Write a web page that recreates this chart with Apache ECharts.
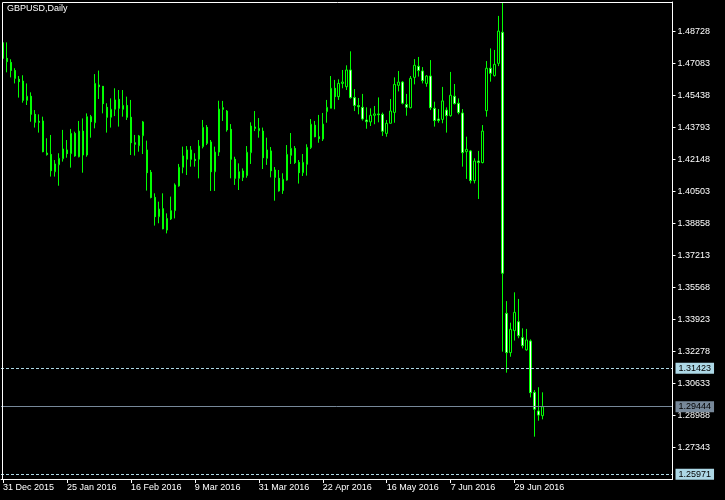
<!DOCTYPE html>
<html>
<head>
<meta charset="utf-8">
<script src="https://cdn.jsdelivr.net/npm/echarts@6/dist/echarts.min.js"></script>
<style>
html,body{margin:0;padding:0;background:#000;}
#chart{width:725px;height:500px;}
</style>
</head>
<body>
<div id="chart"></div>
<script>
// ---- data ----
const dates = [
'31 Dec 2015',
'4 Jan 2016','5 Jan 2016','6 Jan 2016','7 Jan 2016','8 Jan 2016','11 Jan 2016','12 Jan 2016','13 Jan 2016','14 Jan 2016','15 Jan 2016',
'18 Jan 2016','19 Jan 2016','20 Jan 2016','21 Jan 2016','22 Jan 2016','25 Jan 2016','26 Jan 2016','27 Jan 2016','28 Jan 2016','29 Jan 2016',
'1 Feb 2016','2 Feb 2016','3 Feb 2016','4 Feb 2016','5 Feb 2016','8 Feb 2016','9 Feb 2016','10 Feb 2016','11 Feb 2016','12 Feb 2016',
'15 Feb 2016','16 Feb 2016','17 Feb 2016','18 Feb 2016','19 Feb 2016','22 Feb 2016','23 Feb 2016','24 Feb 2016','25 Feb 2016','26 Feb 2016','29 Feb 2016',
'1 Mar 2016','2 Mar 2016','3 Mar 2016','4 Mar 2016','7 Mar 2016','8 Mar 2016','9 Mar 2016','10 Mar 2016','11 Mar 2016',
'14 Mar 2016','15 Mar 2016','16 Mar 2016','17 Mar 2016','18 Mar 2016','21 Mar 2016','22 Mar 2016','23 Mar 2016','24 Mar 2016','25 Mar 2016',
'28 Mar 2016','29 Mar 2016','30 Mar 2016','31 Mar 2016',
'1 Apr 2016','4 Apr 2016','5 Apr 2016','6 Apr 2016','7 Apr 2016','8 Apr 2016','11 Apr 2016','12 Apr 2016','13 Apr 2016','14 Apr 2016','15 Apr 2016',
'18 Apr 2016','19 Apr 2016','20 Apr 2016','21 Apr 2016','22 Apr 2016','25 Apr 2016','26 Apr 2016','27 Apr 2016','28 Apr 2016','29 Apr 2016',
'2 May 2016','3 May 2016','4 May 2016','5 May 2016','6 May 2016','9 May 2016','10 May 2016','11 May 2016','12 May 2016','13 May 2016',
'16 May 2016','17 May 2016','18 May 2016','19 May 2016','20 May 2016','23 May 2016','24 May 2016','25 May 2016','26 May 2016','27 May 2016',
'30 May 2016','31 May 2016',
'1 Jun 2016','2 Jun 2016','3 Jun 2016','6 Jun 2016','7 Jun 2016','8 Jun 2016','9 Jun 2016','10 Jun 2016','13 Jun 2016','14 Jun 2016',
'15 Jun 2016','16 Jun 2016','17 Jun 2016','20 Jun 2016','21 Jun 2016','22 Jun 2016','23 Jun 2016','24 Jun 2016','27 Jun 2016','28 Jun 2016',
'29 Jun 2016','30 Jun 2016',
'1 Jul 2016','4 Jul 2016','5 Jul 2016','6 Jul 2016','7 Jul 2016','8 Jul 2016'
];

const open = [
1.4815,1.4735,1.4714,1.4672,1.4627,1.4618,1.4519,1.4540,1.4447,1.4411,
1.4413,1.4248,1.4241,1.4152,1.4188,1.4219,1.4264,1.4245,1.4349,1.4229,
1.4361,1.4238,1.4435,1.4404,1.4598,1.4591,1.4483,1.4432,1.4473,1.4524,
1.4473,1.4493,1.4432,1.4301,1.4286,1.4337,1.4264,1.4149,1.4020,1.3921,
1.3962,1.3852,1.3909,1.3952,1.4079,1.4175,1.4216,1.4264,1.4216,1.4216,
1.4281,1.4380,1.4305,1.4152,1.4253,1.4481,1.4464,1.4370,1.4216,1.4118,
1.4156,1.4132,1.4250,1.4382,1.4363,1.4361,1.4221,1.4259,1.4161,1.4118,
1.4055,1.4109,1.4236,1.4272,1.4200,1.4147,1.4190,1.4276,1.4391,1.4332,
1.4320,1.4461,1.4478,1.4581,1.4538,1.4606,1.4589,1.4675,1.4533,1.4492,
1.4483,1.4418,1.4408,1.4442,1.4449,1.4447,1.4349,1.4401,1.4457,1.4596,
1.4613,1.4498,1.4481,1.4637,1.4694,1.4670,1.4606,1.4644,1.4478,1.4423,
1.4421,1.4469,1.4440,1.4540,1.4504,1.4454,1.4255,1.4259,1.4106,1.4207,
1.4199,1.4466,1.4684,1.4646,1.4709,1.4869,1.3424,1.3222,1.3335,1.3381,
1.3299,1.3236,1.3282,1.3018,1.2922,1.2898
];
const close = [
1.4735,1.4718,1.4673,1.4632,1.4615,1.4519,1.4540,1.4447,1.4406,1.4406,
1.4255,1.4240,1.4157,1.4192,1.4221,1.4269,1.4245,1.4349,1.4233,1.4361,
1.4238,1.4435,1.4409,1.4606,1.4589,1.4502,1.4432,1.4473,1.4521,1.4478,
1.4493,1.4432,1.4301,1.4293,1.4336,1.4408,1.4147,1.4020,1.3921,1.3960,
1.3858,1.3912,1.3952,1.4084,1.4175,1.4233,1.4264,1.4216,1.4209,1.4284,
1.4380,1.4298,1.4152,1.4253,1.4474,1.4473,1.4367,1.4216,1.4118,1.4152,
1.4123,1.4252,1.4387,1.4375,1.4375,1.4224,1.4264,1.4157,1.4123,1.4053,
1.4113,1.4241,1.4272,1.4199,1.4147,1.4200,1.4277,1.4396,1.4332,1.4322,
1.4397,1.4483,1.4581,1.4538,1.4606,1.4613,1.4675,1.4533,1.4493,1.4486,
1.4423,1.4409,1.4442,1.4449,1.4445,1.4360,1.4401,1.4464,1.4601,1.4613,
1.4504,1.4483,1.4632,1.4699,1.4672,1.4620,1.4644,1.4481,1.4415,1.4415,
1.4516,1.4440,1.4545,1.4502,1.4456,1.4250,1.4267,1.4106,1.4207,1.4199,
1.4361,1.4684,1.4658,1.4704,1.4875,1.3630,1.3222,1.3342,1.3429,1.3309,
1.3258,1.3287,1.3016,1.2931,1.2901,1.2944
];
const low = [
1.4733,1.4663,1.4637,1.4606,1.4533,1.4507,1.4495,1.4409,1.4379,1.4353,
1.4252,1.4235,1.4127,1.4127,1.4080,1.4204,1.4224,1.4173,1.4229,1.4226,
1.4147,1.4229,1.4327,1.4375,1.4526,1.4452,1.4353,1.4379,1.4438,1.4384,
1.4435,1.4418,1.4238,1.4235,1.4255,1.4243,1.4055,1.4015,1.3875,1.3887,
1.3856,1.3835,1.3904,1.3912,1.4075,1.4144,1.4135,1.4178,1.4178,1.4118,
1.4272,1.4289,1.4053,1.4053,1.4233,1.4413,1.4358,1.4118,1.4084,1.4058,
1.4104,1.4121,1.4192,1.4361,1.4327,1.4166,1.4187,1.4123,1.4003,1.4050,
1.4038,1.4106,1.4192,1.4192,1.4091,1.4130,1.4132,1.4269,1.4329,1.4301,
1.4310,1.4404,1.4478,1.4473,1.4521,1.4581,1.4572,1.4528,1.4464,1.4447,
1.4415,1.4373,1.4387,1.4396,1.4406,1.4336,1.4332,1.4401,1.4404,1.4565,
1.4498,1.4440,1.4478,1.4601,1.4641,1.4606,1.4589,1.4469,1.4384,1.4404,
1.4401,1.4353,1.4435,1.4498,1.4447,1.4178,1.4115,1.4092,1.4092,1.4012,
1.4195,1.4435,1.4615,1.4641,1.4695,1.3227,1.3119,1.3201,1.3284,1.3296,
1.3244,1.3232,1.2992,1.2790,1.2872,1.2879
];
const high = [
1.4819,1.4817,1.4730,1.4684,1.4644,1.4648,1.4606,1.4560,1.4469,1.4447,
1.4435,1.4324,1.4341,1.4212,1.4247,1.4367,1.4315,1.4372,1.4358,1.4413,
1.4426,1.4452,1.4444,1.4654,1.4672,1.4593,1.4504,1.4529,1.4581,1.4572,
1.4572,1.4538,1.4521,1.4341,1.4341,1.4413,1.4312,1.4161,1.4041,1.3998,
1.4041,1.3938,1.4024,1.4092,1.4192,1.4281,1.4284,1.4284,1.4247,1.4315,
1.4418,1.4392,1.4315,1.4281,1.4517,1.4516,1.4469,1.4397,1.4229,1.4195,
1.4169,1.4284,1.4406,1.4464,1.4428,1.4379,1.4327,1.4279,1.4176,1.4161,
1.4144,1.4289,1.4351,1.4284,1.4212,1.4243,1.4293,1.4423,1.4413,1.4444,
1.4454,1.4521,1.4644,1.4624,1.4627,1.4675,1.4699,1.4771,1.4577,1.4531,
1.4552,1.4483,1.4478,1.4490,1.4534,1.4456,1.4418,1.4526,1.4637,1.4670,
1.4618,1.4552,1.4644,1.4731,1.4742,1.4690,1.4648,1.4726,1.4512,1.4474,
1.4588,1.4483,1.4665,1.4603,1.4529,1.4474,1.4332,1.4264,1.4221,1.4259,
1.4392,1.4721,1.4786,1.4778,1.4953,1.5021,1.3487,1.3376,1.3532,1.3498,
1.3347,1.3344,1.3290,1.3030,1.3044,1.3018
];

const priceTicks = [1.27343,1.28988,1.30633,1.32278,1.33923,1.35568,1.37213,1.38858,1.40503,1.42148,1.43793,1.45438,1.47083,1.48728];
const dateTickLabels = ['31 Dec 2015','25 Jan 2016','16 Feb 2016','9 Mar 2016','31 Mar 2016','22 Apr 2016','16 May 2016','7 Jun 2016','29 Jun 2016'];
const dashedLevels = [1.31423, 1.25971];
const bidPrice = 1.29444;
const chartTitle = 'GBPUSD,Daily';
const emptyBarsRight = 32;

// ---- build ----
const categories = dates.slice();
for (let k = 1; k <= emptyBarsRight; k++) categories.push('+' + k);
const candles = dates.map((d, i) => [open[i], close[i], low[i], high[i]]);

const FONT = '"Liberation Sans", Arial, sans-serif';
const showTick = (idx, val) => dateTickLabels.indexOf(val) >= 0;

const lvlLabel = (bg) => ({
  show: true, position: 'end', distance: 3,
  formatter: (p) => Number(p.value).toFixed(5),
  color: '#000', fontSize: 9, fontFamily: FONT, lineHeight: 9,
  backgroundColor: bg, padding: [1, 3, 1, 3]
});

const chart = echarts.init(document.getElementById('chart'), null, {renderer: 'canvas'});
chart.setOption({
  backgroundColor: '#000',
  animation: false,
  grid: {left: 0.5, top: 2, width: 672, height: 477, containLabel: false},
  graphic: [
    {type: 'rect', z: 100, silent: true,
     shape: {x: 2.5, y: 2.5, width: 670, height: 477},
     style: {fill: null, stroke: '#ffffff', lineWidth: 1}},
    {type: 'text', z: 100, left: 7, top: 4, silent: true,
     style: {text: chartTitle, fill: '#ffffff', font: '9px ' + FONT}}
  ],
  xAxis: {
    type: 'category', data: categories, boundaryGap: true,
    axisLine: {show: true, lineStyle: {color: '#ffffff', width: 1}},
    axisTick: {show: true, alignWithLabel: true, interval: showTick, length: 4, lineStyle: {color: '#ffffff'}},
    axisLabel: {show: true, interval: showTick, align: 'left', margin: 4,
      color: '#ffffff', fontSize: 9, fontFamily: FONT},
    splitLine: {show: false}
  },
  yAxis: {
    type: 'value', position: 'right', scale: true,
    min: 1.25724, max: 1.50245,
    axisLine: {show: true, lineStyle: {color: '#ffffff', width: 1}},
    axisTick: {show: true, customValues: priceTicks, length: 3, lineStyle: {color: '#ffffff'}},
    axisLabel: {show: true, customValues: priceTicks, margin: 5,
      formatter: (v) => Number(v).toFixed(5),
      color: '#ffffff', fontSize: 9, fontFamily: FONT},
    splitLine: {show: false}
  },
  series: [{
    type: 'candlestick',
    data: candles,
    barWidth: 2,
    itemStyle: {
      color: '#000000', color0: '#ffffff',
      borderColor: '#00ff00', borderColor0: '#00ff00', borderColorDoji: '#00ff00',
      borderWidth: 1
    },
    markLine: {
      symbol: 'none', silent: true, animation: false, precision: 5,
      data: [
        ...dashedLevels.map(v => ({yAxis: v,
          lineStyle: {type: [3, 2], color: '#add8e6', width: 1},
          label: lvlLabel('#add8e6')})),
        {yAxis: bidPrice, lineStyle: {type: 'solid', color: '#778899', width: 1},
          label: lvlLabel('#778899')}
      ]
    }
  }]
});
</script>
</body>
</html>
